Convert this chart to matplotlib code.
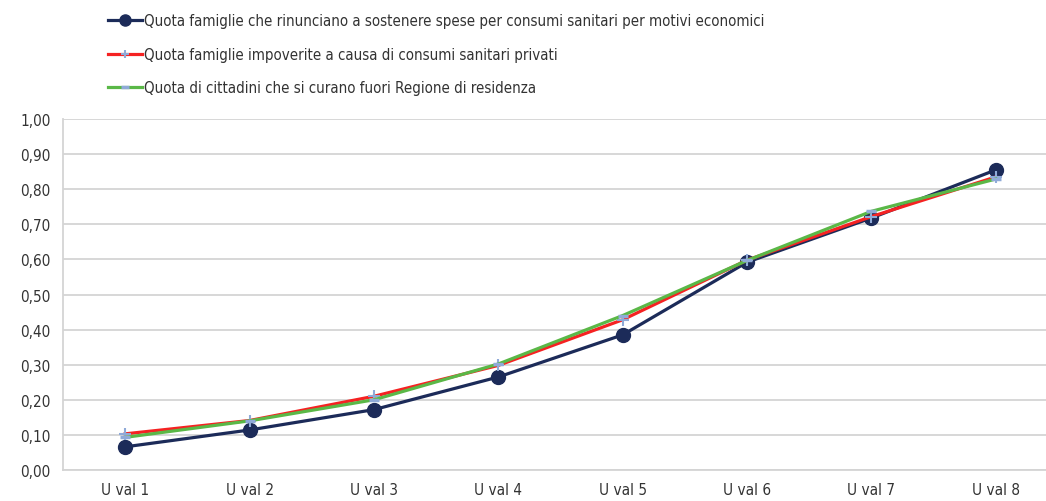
import numpy as np
import matplotlib.pyplot as plt
from matplotlib.ticker import FuncFormatter

categories = ['U val 1', 'U val 2', 'U val 3', 'U val 4', 'U val 5', 'U val 6', 'U val 7', 'U val 8']
rinuncia = [0.066, 0.114, 0.172, 0.265, 0.385, 0.592, 0.718, 0.855]
impoverite = [0.103, 0.141, 0.210, 0.298, 0.428, 0.598, 0.722, 0.835]
fuori_regione = [0.093, 0.140, 0.200, 0.302, 0.440, 0.597, 0.737, 0.829]

labels = ['Quota famiglie che rinunciano a sostenere spese per consumi sanitari per motivi economici',
          'Quota famiglie impoverite a causa di consumi sanitari privati',
          'Quota di cittadini che si curano fuori Regione di residenza']

plt.rcParams['font.family'] = ['DejaVu Sans']
plt.rcParams['font.stretch'] = 'condensed'
text_col = '#333333'

fig = plt.figure(figsize=(10.46, 5.02), dpi=100)
# plot area runs past the right edge (chart is cropped in the reference)
ax = fig.add_axes([63 / 1046, 31 / 502, 995 / 1046, 351 / 502])

x = np.arange(len(categories))
l1, = ax.plot(x, rinuncia, color='#1c2b59', lw=2.3, marker='o', ms=10, zorder=3)
l2, = ax.plot(x, impoverite, color='#f52222', lw=2.3, marker='+', ms=8, mew=1.5,
              mec='#8faad8', zorder=4)
l3, = ax.plot(x, fuori_regione, color='#5ab847', lw=2.3, marker='_', ms=7, mew=2.5,
              mec='#8faad8', zorder=5)

ax.set_xlim(-0.5, len(categories) - 0.5)
ax.set_ylim(0, 1.0)
ax.set_yticks(np.arange(0, 1.01, 0.1))
ax.yaxis.set_major_formatter(FuncFormatter(lambda v, p: f'{v:.2f}'.replace('.', ',')))
ax.set_xticks(x)
ax.set_xticklabels(categories)
ax.grid(axis='y', color='#d4d4d4', lw=1.3)
ax.set_axisbelow(True)
for s in ['top', 'right']:
    ax.spines[s].set_visible(False)
for s in ['left', 'bottom']:
    ax.spines[s].set_color('#d4d4d4')
    ax.spines[s].set_linewidth(1.3)
ax.tick_params(length=0, labelsize=11, colors=text_col, pad=9)
ax.tick_params(axis='y', pad=9)

fig.legend([l1, l2, l3], labels, loc='upper left', bbox_to_anchor=(94 / 1046, 1 - 1 / 502),
           frameon=False, fontsize=10.8, handlelength=2.3, handletextpad=0.15,
           labelspacing=1.22, labelcolor=text_col, markerscale=0.8)

fig.savefig('out.png', dpi=100)
